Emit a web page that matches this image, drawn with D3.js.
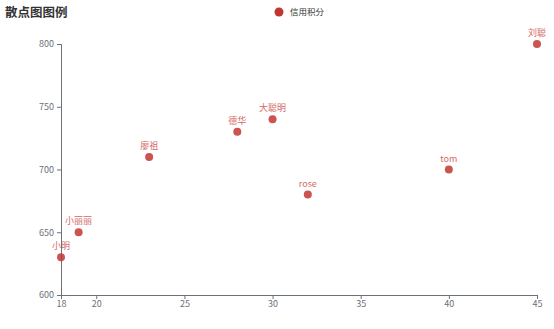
<!doctype html>
<html lang="zh">
<head>
<meta charset="utf-8">
<title>散点图图例</title>
<style>
 body{margin:0;background:#fff;}
 svg{display:block;font-family:"Noto Sans CJK SC","Microsoft YaHei",sans-serif;}
 .axis path,.axis line{stroke:#6E7079;}
 .axis text{fill:#6E7079;font-size:9px;font-family:"Noto Sans CJK SC",sans-serif;}
</style>
<script src="https://cdnjs.cloudflare.com/ajax/libs/d3/7.8.5/d3.min.js"></script>
</head>
<body>
<svg width="554" height="329"></svg>
<script>
const names=["小明","小丽丽","廖祖","德华","大聪明","rose","tom","刘聪"];
const ages=[18,19,23,28,30,32,40,45];
const scores=[630,650,710,730,740,680,700,800];
const xTicks=[18,20,25,30,35,40,45];
const yTicks=[600,650,700,750,800];
const seriesName="信用积分";

const svg=d3.select("svg");
const margin={top:44,left:61,right:17,bottom:34};
const width=554-margin.left-margin.right;
const height=329-margin.top-margin.bottom;

const xScale=d3.scaleLinear().domain([18,45]).range([0,width]);
const yScale=d3.scaleLinear().domain([600,800]).range([height,0]);

const g=svg.append("g").attr("transform",`translate(${margin.left},${margin.top})`);

g.append("g").attr("class","axis")
 .attr("transform",`translate(0,${height})`)
 .call(d3.axisBottom(xScale).tickValues(xTicks).tickSizeOuter(0).tickSize(4).tickPadding(2));

g.append("g").attr("class","axis")
 .call(d3.axisLeft(yScale).tickValues(yTicks).tickSizeOuter(0).tickSize(4).tickPadding(3));

const data=names.map((n,i)=>({name:n,age:ages[i],score:scores[i]}));

g.selectAll(".pt").data(data).enter()
 .append("circle")
 .attr("class","pt")
 .attr("cx",d=>xScale(d.age))
 .attr("cy",d=>yScale(d.score))
 .attr("r",4)
 .style("fill","#c23531")
 .style("opacity",0.85);

g.selectAll(".lbl").data(data).enter()
 .append("text")
 .attr("class","lbl")
 .attr("x",d=>xScale(d.age))
 .attr("y",d=>yScale(d.score)-8)
 .attr("text-anchor","middle")
 .style("font-size","9px")
 .style("fill","#d36a67")
 .text(d=>d.name);

// title
svg.append("text")
 .attr("x",5).attr("y",17)
 .style("font-size","12.5px")
 .style("font-weight","bold")
 .style("fill","#333")
 .text("散点图图例");

// legend
const lg=svg.append("g").attr("transform","translate(279,12)");
lg.append("circle").attr("r",4.5).style("fill","#c23531");
lg.append("text").attr("x",11).attr("y",3)
 .style("font-size","8.5px").style("fill","#333")
 .text(seriesName);
</script>
</body>
</html>
